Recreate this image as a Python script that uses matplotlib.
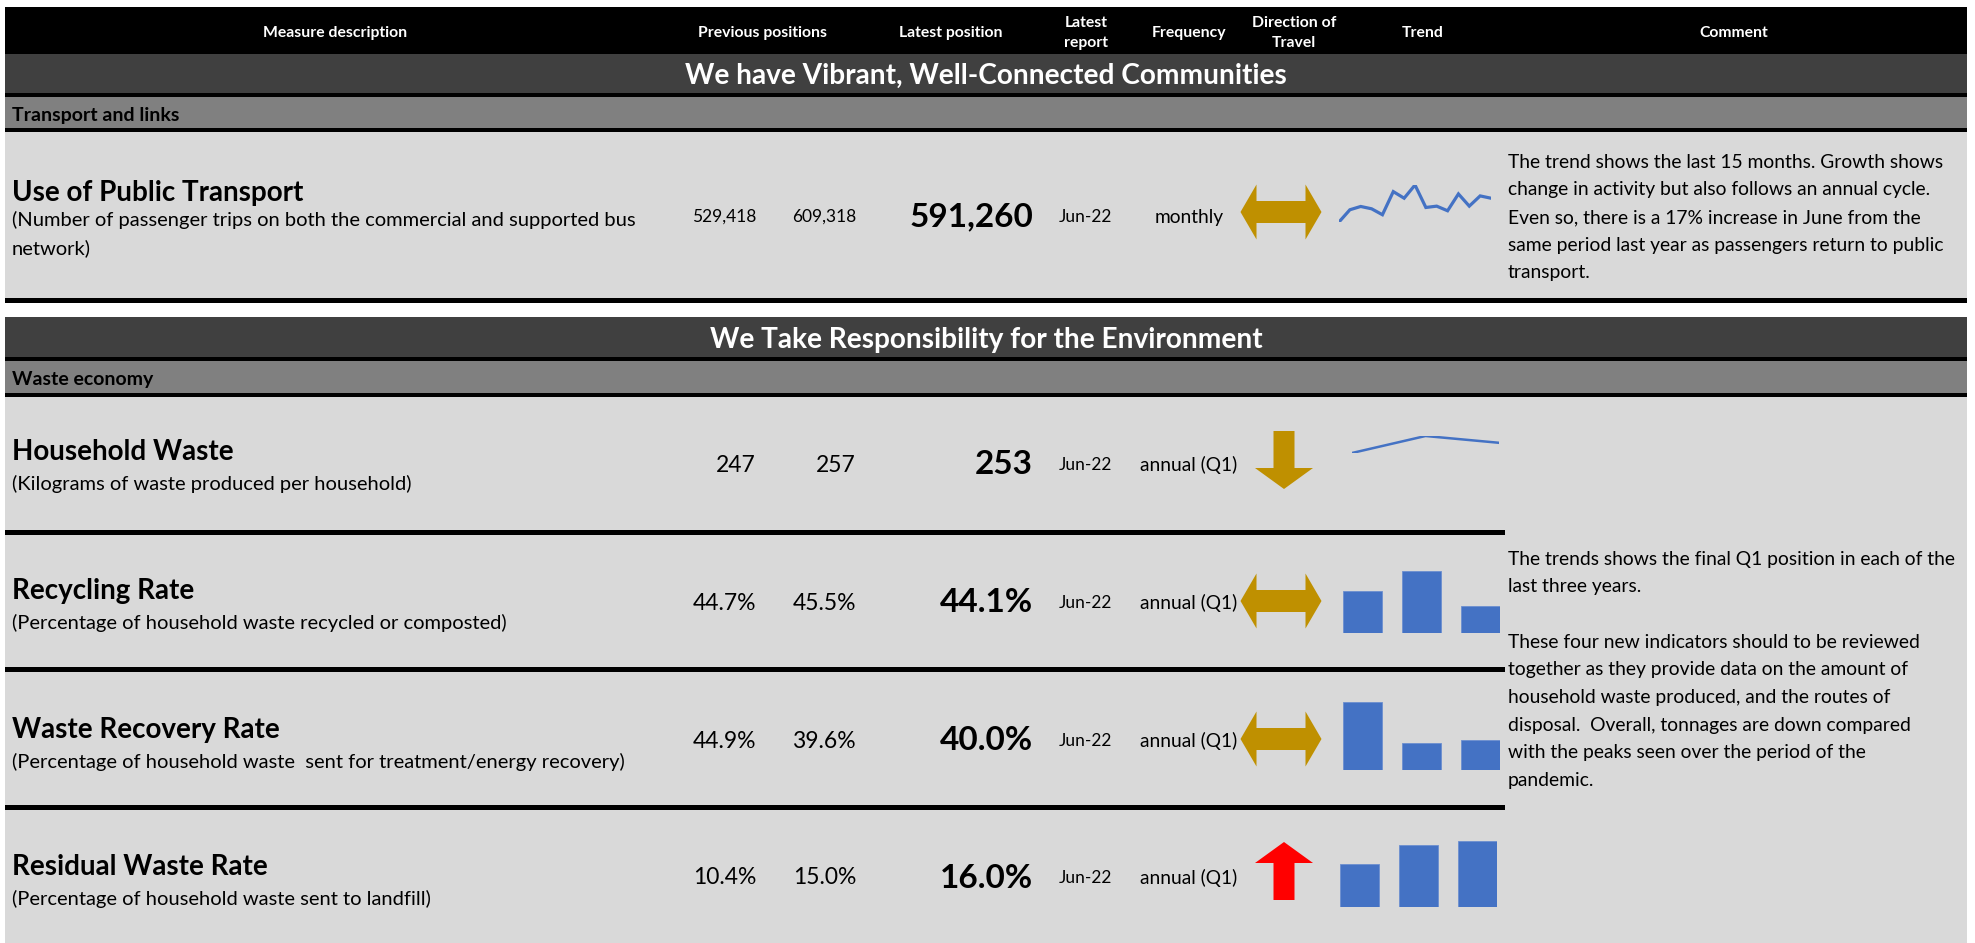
import matplotlib
matplotlib.use("Agg")
import matplotlib.pyplot as plt
from matplotlib.patches import Rectangle, Polygon

plt.rcParams['font.family'] = ['Lato', 'DejaVu Sans']

W, H = 1975, 943

# ---- data ----
headers = ['Measure description', 'Previous positions', 'Latest position', 'Latest\nreport',
           'Frequency', 'Direction of\nTravel', 'Trend', 'Comment']
themes = ['We have Vibrant, Well-Connected Communities', 'We Take Responsibility for the Environment']
sections = ['Transport and links', 'Waste economy']

measures = ['Use of Public Transport', 'Household Waste', 'Recycling Rate',
            'Waste Recovery Rate', 'Residual Waste Rate']
descriptions = [
    '(Number of passenger trips on both the commercial and supported bus\nnetwork)',
    '(Kilograms of waste produced per household)',
    '(Percentage of household waste recycled or composted)',
    '(Percentage of household waste  sent for treatment/energy recovery)',
    '(Percentage of household waste sent to landfill)',
]
prev_a = [529418, 247, 44.7, 44.9, 10.4]
prev_b = [609318, 257, 45.5, 39.6, 15.0]
latest = [591260, 253, 44.1, 40.0, 16.0]
units = ['count', 'kg', 'pct', 'pct', 'pct']
reports = ['Jun-22', 'Jun-22', 'Jun-22', 'Jun-22', 'Jun-22']
frequency = ['monthly', 'annual (Q1)', 'annual (Q1)', 'annual (Q1)', 'annual (Q1)']
direction = ['both', 'down', 'both', 'both', 'up']
dir_colour = ['#BF9000', '#BF9000', '#BF9000', '#BF9000', '#FF0000']
trend_kind = ['line', 'line', 'bar', 'bar', 'bar']

transport_trend = [405500, 501000, 526800, 508700, 462300, 642900, 591300, 694500,
                   519000, 529300, 493200, 624800, 529418, 609318, 591260]

comment_transport = [
    'The trend shows the last 15 months. Growth shows',
    'change in activity but also follows an annual cycle.',
    'Even so, there is a 17% increase in June from the',
    'same period last year as passengers return to public',
    'transport.',
]
comment_waste = [
    'The trends shows the final Q1 position in each of the',
    'last three years.',
    '',
    'These four new indicators should to be reviewed',
    'together as they provide data on the amount of',
    'household waste produced, and the routes of',
    'disposal.  Overall, tonnages are down compared',
    'with the peaks seen over the period of the',
    'pandemic.',
]

# ---- layout (pixels) ----
col_x = [335, 762, 951, 1086, 1189, 1294, 1423, 1734]
row_title_y = [193, 452, 591, 730, 867]
row_val_y = [217, 465, 603, 741, 878]
arrow_y = [212, 460, 601, 739, 871]
trend_box = [(1339, 185, 1491, 222), (1352, 436, 1499, 453), (1343, 571, 1500, 633),
             (1343, 702, 1500, 770), (1340, 841, 1497, 907)]
bar_floor = [None, None, 43.05, 36.2, 0.0]

fig = plt.figure(figsize=(W / 100, H / 100), dpi=100)
fig.patch.set_facecolor('white')
ax = fig.add_axes([0, 0, 1, 1])
ax.set_xlim(0, W)
ax.set_ylim(H, 0)
ax.axis('off')

L, R = 5, 1967


def band(y0, y1, color, x0=L, x1=R):
    ax.add_patch(Rectangle((x0, y0), x1 - x0, y1 - y0, color=color, lw=0))


# header + bands
band(7, 54, '#000000')
band(54, 93, '#404040')
band(93, 97, '#000000')
band(97, 128, '#808080')
band(128, 132, '#000000')
band(132, 298, '#D9D9D9')
band(298, 303, '#000000')
band(317, 357, '#404040')
band(357, 361, '#000000')
band(361, 393, '#808080')
band(393, 397, '#000000')
band(397, H, '#D9D9D9')
for yl in [530, 667, 805]:
    band(yl, yl + 5, '#000000', L, 1505)

for x, h in zip(col_x, headers):
    ax.text(x, 33, h, color='white', fontsize=11.3, fontweight='bold', ha='center', va='center',
            linespacing=1.55, multialignment='center')

for y, t in zip([76, 340], themes):
    ax.text(986, y, t, color='white', fontsize=20.2, fontweight='bold', ha='center', va='center')
for y, t in zip([115, 379], sections):
    ax.text(12, y, t, color='black', fontsize=14, fontweight='bold', ha='left', va='center')


def fmt(v, u):
    if u == 'count':
        return f'{v:,.0f}'
    if u == 'pct':
        return f'{v:.1f}%'
    return f'{v:.0f}'


def arrow(kind, cx, cy, color):
    if kind == 'both':
        pts = [(-40.5, 0), (-24.5, -27.5), (-24.5, -11), (24.5, -11), (24.5, -27.5), (40.5, 0),
               (24.5, 27.5), (24.5, 11), (-24.5, 11), (-24.5, 27.5)]
    else:
        pts = [(-10.5, -29), (10.5, -29), (10.5, 8), (29, 8), (0, 29), (-29, 8), (-10.5, 8)]
        if kind == 'up':
            pts = [(px, -py) for px, py in pts]
    ax.add_patch(Polygon([(cx + px, cy + py) for px, py in pts], closed=True, color=color, lw=0))


def inset(box):
    x0, y0, x1, y1 = box
    a = fig.add_axes([x0 / W, 1 - y1 / H, (x1 - x0) / W, (y1 - y0) / H])
    a.axis('off')
    return a


for i in range(len(measures)):
    ty = row_title_y[i]
    ax.text(12, ty, measures[i], fontsize=20, fontweight='bold', ha='left', va='center')
    for k, line in enumerate(descriptions[i].split('\n')):
        ax.text(12, ty + 27 + 28 * k if i == 0 else ty + 32, line, fontsize=14.5, ha='left', va='center')
    vy = row_val_y[i]
    small = 12.5 if units[i] == 'count' else 16.5
    ax.text(756, vy, fmt(prev_a[i], units[i]), fontsize=small, ha='right', va='center')
    ax.text(856, vy, fmt(prev_b[i], units[i]), fontsize=small, ha='right', va='center')
    ax.text(1033, vy, fmt(latest[i], units[i]), fontsize=24, fontweight='bold', ha='right', va='center')
    ax.text(1085, vy, reports[i], fontsize=12.5, ha='center', va='center')
    ax.text(1189, vy, frequency[i], fontsize=13.8, ha='center', va='center')
    arrow(direction[i], 1281 if direction[i] == 'both' else 1284, arrow_y[i], dir_colour[i])

    t = inset(trend_box[i])
    if i == 0:
        t.plot(range(len(transport_trend)), transport_trend, color='#4472C4', lw=2.3,
               solid_joinstyle='miter')
        t.set_xlim(0, len(transport_trend) - 1)
        t.set_ylim(min(transport_trend), max(transport_trend))
    elif trend_kind[i] == 'line':
        vals = [prev_a[i], prev_b[i], latest[i]]
        t.plot(range(3), vals, color='#4472C4', lw=1.8)
        t.set_xlim(0, 2)
        t.set_ylim(min(vals), max(vals))
    else:
        vals = [prev_a[i], prev_b[i], latest[i]]
        t.bar(range(3), vals, width=0.66, color='#4472C4', edgecolor='#6C8FD0', lw=0.6)
        t.set_xlim(-0.33, 2.33)
        t.set_ylim(bar_floor[i], max(vals))
    t.margins(0)

for k, line in enumerate(comment_transport):
    ax.text(1508, 162 + 27.7 * k, line, fontsize=13.9, ha='left', va='center')
for k, line in enumerate(comment_waste):
    ax.text(1508, 559 + 27.7 * k, line, fontsize=13.9, ha='left', va='center')

fig.savefig('out.png', dpi=100, facecolor='white')
